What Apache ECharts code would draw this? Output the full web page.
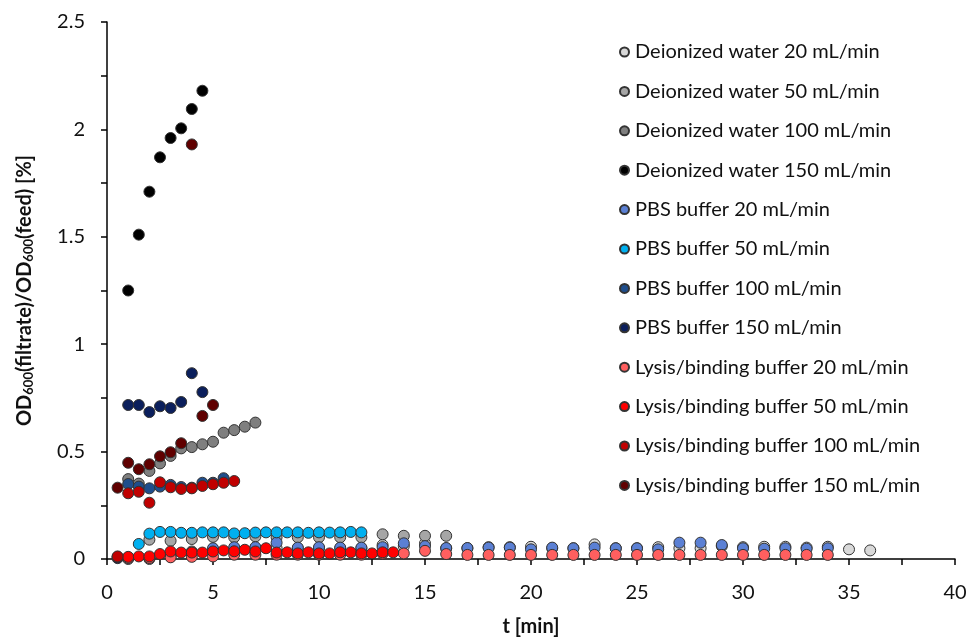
<!DOCTYPE html>
<html><head><meta charset="utf-8">
<script src="https://cdn.jsdelivr.net/npm/echarts@6/dist/echarts.min.js"></script>
<style>html,body{margin:0;padding:0;background:#fff}#c{width:969px;height:638px}</style>
</head><body><div id="c"></div>
<script>
// ---- Data (t [min], OD ratio [%]) ----
const seriesNames = [
  'Deionized water 20 mL/min','Deionized water 50 mL/min','Deionized water 100 mL/min','Deionized water 150 mL/min',
  'PBS buffer 20 mL/min','PBS buffer 50 mL/min','PBS buffer 100 mL/min','PBS buffer 150 mL/min',
  'Lysis/binding buffer 20 mL/min','Lysis/binding buffer 50 mL/min','Lysis/binding buffer 100 mL/min','Lysis/binding buffer 150 mL/min'
];
const seriesColors = ['#d9d9d9','#a6a6a6','#7f7f7f','#000000','#5b80d4','#00b0f0','#1f4e8c','#0b1f5c','#ff5f5f','#ff0000','#c00000','#600000'];

const dw20_t = [1,2,3,4,5,6,7,8,9,10,11,12,13,14,15,16,17,18,19,20,21,22,23,24,25,26,27,28,29,30,31,32,33,34,35,36];
const dw20_v = [0.0,0.0,0.02,0.035,0.04,0.045,0.05,0.05,0.05,0.05,0.05,0.05,0.065,0.06,0.073,0.05,0.05,0.055,0.055,0.057,0.05,0.05,0.068,0.05,0.05,0.055,0.05,0.05,0.06,0.055,0.057,0.057,0.053,0.057,0.045,0.04];

const dw50_t = [2,3,4,5,6,7,8,9,10,11,12,13,14,15,16];
const dw50_v = [0.09,0.085,0.093,0.103,0.101,0.105,0.101,0.101,0.101,0.101,0.101,0.115,0.108,0.108,0.108];

const dw100_t = [1,1.5,2,2.5,3,3.5,4,4.5,5,5.5,6,6.5,7];
const dw100_v = [0.372,0.351,0.41,0.445,0.48,0.515,0.521,0.534,0.546,0.588,0.60,0.616,0.635];

const dw150_t = [1,1.5,2,2.5,3,3.5,4,4.5];
const dw150_v = [1.25,1.51,1.71,1.87,1.96,2.005,2.095,2.18];

const pbs20_t = [1,2,3,4,5,6,7,8,9,10,11,12,13,14,15,16,17,18,19,20,21,22,23,24,25,26,27,28,29,30,31,32,33,34];
const pbs20_v = [0.005,0.005,0.01,0.03,0.05,0.055,0.055,0.076,0.053,0.055,0.053,0.053,0.055,0.073,0.06,0.051,0.051,0.053,0.053,0.045,0.053,0.05,0.053,0.05,0.05,0.045,0.076,0.076,0.065,0.05,0.048,0.05,0.048,0.05];

const pbs50_t = [1.5,2,2.5,3,3.5,4,4.5,5,5.5,6,6.5,7,7.5,8,8.5,9,9.5,10,10.5,11,11.5,12];
const pbs50_v = [0.07,0.118,0.126,0.126,0.122,0.122,0.124,0.124,0.124,0.119,0.12,0.123,0.124,0.124,0.124,0.124,0.122,0.124,0.123,0.124,0.126,0.124];

const pbs100_t = [1,1.5,2,2.5,3,3.5,4,4.5,5,5.5];
const pbs100_v = [0.349,0.337,0.329,0.337,0.345,0.335,0.332,0.355,0.355,0.376];

const pbs150_t = [0.5,1,1.5,2,2.5,3,3.5,4,4.5];
const pbs150_v = [0.004,0.717,0.717,0.684,0.711,0.703,0.731,0.865,0.777];

const lb20_t = [1,2,3,4,5,6,7,8,9,10,11,12,13,14,15,16,17,18,19,20,21,22,23,24,25,26,27,28,29,30,31,32,33,34];
const lb20_v = [0.005,0.005,0.008,0.01,0.012,0.02,0.02,0.02,0.02,0.02,0.02,0.02,0.025,0.026,0.038,0.023,0.019,0.019,0.019,0.019,0.019,0.019,0.019,0.019,0.019,0.019,0.019,0.019,0.019,0.019,0.019,0.019,0.019,0.019];

const lb50_t = [0.5,1,1.5,2,2.5,3,3.5,4,4.5,5,5.5,6,6.5,7,7.5,8,8.5,9,9.5,10,10.5,11,11.5,12,12.5,13,13.5];
const lb50_v = [0.01,0.01,0.012,0.012,0.023,0.035,0.03,0.03,0.03,0.035,0.04,0.036,0.043,0.035,0.05,0.03,0.031,0.026,0.031,0.026,0.026,0.031,0.031,0.026,0.026,0.031,0.031];

const lb100_t = [0.5,1,1.5,2,2.5,3,3.5,4,4.5,5,5.5,6];
const lb100_v = [0.012,0.306,0.313,0.262,0.357,0.334,0.326,0.329,0.34,0.348,0.355,0.363];

const lb150_t = [0.5,1,1.5,2,2.5,3,3.5,4,4.5,5];
const lb150_v = [0.332,0.448,0.418,0.441,0.478,0.497,0.539,1.93,0.666,0.717];

const xTicks = ['0','5','10','15','20','25','30','35','40'];
const yTicks = ['0','0.5','1','1.5','2','2.5'];

const allT = [dw20_t,dw50_t,dw100_t,dw150_t,pbs20_t,pbs50_t,pbs100_t,pbs150_t,lb20_t,lb50_t,lb100_t,lb150_t];
const allV = [dw20_v,dw50_v,dw100_v,dw150_v,pbs20_v,pbs50_v,pbs100_v,pbs150_v,lb20_v,lb50_v,lb100_v,lb150_v];

const FONT = 'Lato';
const chart = echarts.init(document.getElementById('c'), null, {renderer:'canvas'});
const series = seriesNames.map((n,i)=>({
  name:n, type:'scatter', symbol:'circle', symbolSize:11,
  itemStyle:{color:seriesColors[i], borderColor:'#333', borderWidth:1, opacity:1},
  emphasis:{disabled:true},
  data: allT[i].map((t,k)=>[t, allV[i][k]])
}));
chart.setOption({
  animation:false,
  backgroundColor:'#fff',
  grid:{left:107,right:14,top:22,bottom:79,containLabel:false,outerBoundsMode:'none'},
  legend:{
    orient:'vertical', left:614, top:37, itemWidth:9, itemHeight:9, itemGap:19.4, icon:'circle',
    textStyle:{fontFamily:FONT, fontSize:20, color:'#111', lineHeight:20, padding:[0,0,0,1]},
    data:seriesNames
  },
  xAxis:{
    type:'value', min:0, max:40, interval:2.5,
    name:'t [min]', nameLocation:'middle', nameGap:58,
    nameTextStyle:{fontFamily:FONT, fontSize:20, fontWeight:'bold', color:'#111'},
    axisLine:{show:true, onZero:false, lineStyle:{color:'#000', width:1.5}},
    axisTick:{show:true, inside:false, length:6, lineStyle:{color:'#000', width:1.5}},
    axisLabel:{fontFamily:FONT, fontSize:20, color:'#111', margin:24,
      formatter:v=>{const s=String(v); return xTicks.includes(s)?s:'';}},
    splitLine:{show:false}
  },
  yAxis:{
    type:'value', min:0, max:2.5, interval:0.25,
    name:'OD{s|600}(filtrate)/OD{s|600}(feed) [%]', nameLocation:'middle', nameGap:72, nameRotate:90,
    nameTextStyle:{fontFamily:FONT, fontSize:20, fontWeight:'bold', color:'#111',
      rich:{s:{fontFamily:FONT, fontSize:13, fontWeight:'bold', color:'#111', verticalAlign:'bottom', padding:[8,0,0,0]}}},
    axisLine:{show:true, lineStyle:{color:'#000', width:1.5}},
    axisTick:{show:true, inside:false, length:6, lineStyle:{color:'#000', width:1.5}},
    axisLabel:{fontFamily:FONT, fontSize:20, color:'#111', margin:22,
      formatter:v=>{const s=String(Math.round(v*100)/100); return yTicks.includes(s)?s:'';}},
    splitLine:{show:false}
  },
  series:series
});
</script></body></html>
